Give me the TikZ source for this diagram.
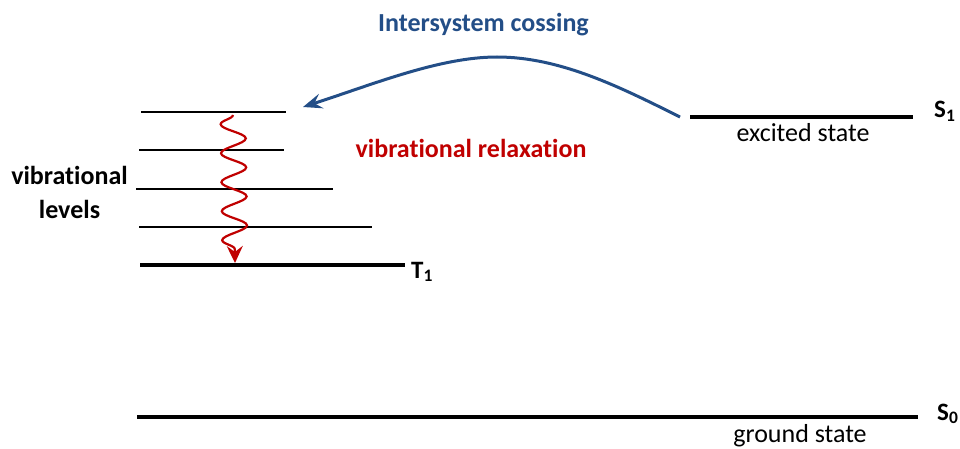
\documentclass[tikz,border=0pt]{standalone}
\usepackage{fontspec}
\setmainfont{Carlito}[Ligatures={NoCommon}]
\usetikzlibrary{arrows.meta,decorations.pathmorphing}
\definecolor{iscblue}{RGB}{35,78,135}
\definecolor{vrred}{RGB}{192,0,0}
\begin{document}
\begin{tikzpicture}[x=1pt,y=-1pt,
  lvl/.style={line width=2.1pt},
  statel/.style={line width=3.3pt},
  bigtxt/.style={font=\fontsize{26}{31}\selectfont, inner sep=0pt},
  bigbold/.style={font=\fontsize{26}{31}\selectfont\bfseries, inner sep=0pt},
  statelab/.style={font=\fontsize{25}{30}\selectfont\bfseries, inner sep=0pt, anchor=base west}]
\useasboundingbox (0,0) rectangle (960,449);
% vibrational levels
\coordinate (v1a) at (141,112); \coordinate (v1b) at (286,112);
\coordinate (v2a) at (139,150); \coordinate (v2b) at (284,150);
\coordinate (v3a) at (136,189); \coordinate (v3b) at (333,189);
\coordinate (v4a) at (139,227); \coordinate (v4b) at (372,227);
\coordinate (t1a) at (140,265); \coordinate (t1b) at (405,265);
\coordinate (s1a) at (690,117); \coordinate (s1b) at (913,117);
\coordinate (s0a) at (137,417); \coordinate (s0b) at (918,417);
\draw[lvl] (v1a) -- (v1b);
\draw[lvl] (v2a) -- (v2b);
\draw[lvl] (v3a) -- (v3b);
\draw[lvl] (v4a) -- (v4b);
\draw[statel] (t1a) -- (t1b);
\draw[statel] (s1a) -- (s1b);
\draw[statel] (s0a) -- (s0b);
% labels
\node[statelab] (t1) at (411,278) {T\textsubscript{1}};
\node[statelab] (s1) at (934,118) {S\textsubscript{1}};
\node[statelab] (s0) at (937,420) {S\textsubscript{0}};
\node[bigtxt, anchor=base] (exc) at (803,142) {excited state};
\node[bigtxt, anchor=base] (gnd) at (800,442) {ground state};
\node[bigbold, anchor=base] (vib1) at (69.5,184) {vibrational};
\node[bigbold, anchor=base] (vib2) at (69.5,218) {levels};
\node[bigbold, anchor=base, text=iscblue] (isc) at (483.5,32) {Intersystem cossing};
\node[bigbold, anchor=base, text=vrred] (vr) at (471,158) {vibrational relaxation};
% intersystem crossing arrow
\coordinate (iscs) at (680,117);
\coordinate (isct) at (303,107);
\coordinate (iscp) at (497,57);
\draw[iscblue, line width=3pt, -{Stealth[length=19pt,width=15pt,inset=7pt]}]
  (iscs) .. controls (620,87) and (560,57) .. (iscp)
         .. controls (440,57) and (374,84) .. (isct);
% vibrational relaxation wave
\coordinate (wvs) at (233,115);
\coordinate (wve) at (235,263);
\draw[vrred, line width=2.2pt, decorate,
  decoration={snake, segment length=29pt, amplitude=-12.5pt, post length=10pt},
  -{Stealth[length=17pt,width=16pt,inset=6pt]}] (wvs) -- (wve);
\end{tikzpicture}
\end{document}
